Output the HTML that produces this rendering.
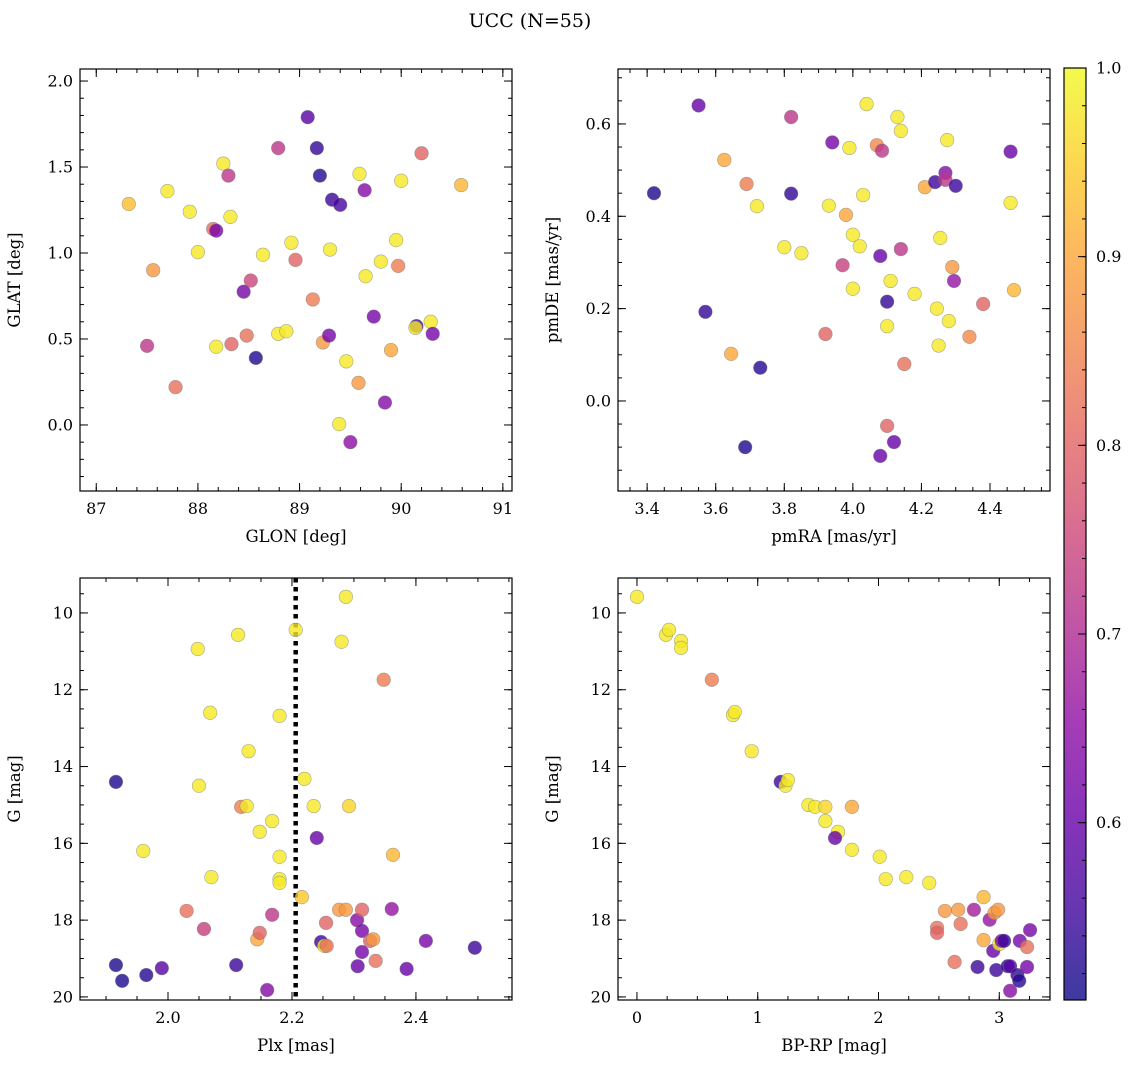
<!DOCTYPE html>
<html><head><meta charset="utf-8">
<style>
body{margin:0;background:#fff;}
svg{display:block;font-family:"DejaVu Serif","Liberation Serif",serif;}
</style></head>
<body>
<svg id="fig" width="1136" height="1068" viewBox="0 0 1136 1068" xmlns="http://www.w3.org/2000/svg">
<text x="530" y="27" text-anchor="middle" font-size="19">UCC (N=55)</text>
<defs>
<linearGradient id="cbgrad" x1="0" y1="1" x2="0" y2="0"></linearGradient>
</defs>
</svg>
<script>
// ---- data (per panel) ----
const tlGlon=[87.32,87.56,87.50,87.78,87.70,87.92,88.00,88.25,88.30,88.32,88.15,88.18,88.18,88.33,88.48,88.52,88.45,88.57,88.64,88.79,88.79,88.87,88.92,88.96,89.08,89.17,89.20,89.13,89.23,89.30,89.29,89.32,89.40,89.59,89.64,89.65,89.46,89.39,89.50,89.58,89.73,89.80,89.84,89.90,89.95,89.97,90.00,90.20,90.15,90.14,90.29,90.31,90.59];
const tlGlat=[1.285,0.90,0.46,0.22,1.36,1.24,1.005,1.52,1.45,1.21,1.14,1.13,0.455,0.47,0.52,0.84,0.775,0.39,0.99,1.61,0.53,0.545,1.06,0.96,1.79,1.61,1.45,0.73,0.48,1.02,0.52,1.31,1.28,1.46,1.365,0.865,0.37,0.005,-0.10,0.245,0.63,0.95,0.13,0.435,1.075,0.925,1.42,1.58,0.575,0.565,0.60,0.53,1.395];
const tlProb=[0.93,0.88,0.72,0.82,0.98,0.98,0.98,0.98,0.72,0.98,0.82,0.62,0.98,0.80,0.82,0.75,0.62,0.52,0.98,0.72,0.98,0.98,0.98,0.80,0.58,0.54,0.53,0.84,0.88,0.98,0.62,0.55,0.56,0.98,0.64,0.98,0.98,0.98,0.65,0.88,0.62,0.98,0.64,0.90,0.98,0.84,0.98,0.80,0.55,0.98,0.98,0.62,0.92];

const trPmra=[3.42,3.55,3.57,3.625,3.645,3.69,3.72,3.686,3.73,3.80,3.82,3.82,3.85,3.92,3.93,3.94,3.97,3.98,3.99,4.00,4.00,4.02,4.03,4.04,4.07,4.085,4.08,4.10,4.10,4.10,4.08,4.12,4.11,4.13,4.14,4.14,4.15,4.18,4.21,4.24,4.245,4.255,4.25,4.27,4.27,4.275,4.28,4.29,4.295,4.30,4.34,4.38,4.46,4.46,4.47];
const trPmde=[0.45,0.64,0.193,0.522,0.102,0.47,0.422,-0.10,0.072,0.333,0.449,0.615,0.32,0.145,0.423,0.56,0.294,0.403,0.548,0.36,0.243,0.335,0.446,0.643,0.554,0.542,0.314,0.215,0.162,-0.054,-0.119,-0.089,0.26,0.615,0.585,0.329,0.08,0.232,0.463,0.474,0.20,0.353,0.12,0.494,0.479,0.565,0.173,0.29,0.26,0.466,0.139,0.21,0.429,0.54,0.24];
const trProb=[0.52,0.60,0.54,0.90,0.90,0.84,0.98,0.52,0.53,0.98,0.54,0.72,0.98,0.80,0.98,0.62,0.74,0.90,0.98,0.98,0.98,0.98,0.98,0.98,0.86,0.72,0.60,0.54,0.98,0.80,0.60,0.60,0.98,0.98,0.98,0.72,0.82,0.98,0.90,0.55,0.98,0.98,0.98,0.64,0.72,0.98,0.98,0.88,0.66,0.55,0.86,0.80,0.98,0.60,0.92];

const blPlx=[1.916,1.916,1.926,1.965,1.96,1.99,2.03,2.048,2.05,2.058,2.068,2.07,2.11,2.113,2.118,2.127,2.13,2.144,2.148,2.148,2.16,2.168,2.168,2.18,2.18,2.18,2.18,2.206,2.216,2.22,2.235,2.24,2.247,2.252,2.256,2.255,2.276,2.28,2.287,2.287,2.292,2.305,2.306,2.313,2.313,2.313,2.326,2.331,2.335,2.348,2.363,2.361,2.385,2.416,2.495];
const blG=[14.40,19.17,19.58,19.43,16.2,19.25,17.76,10.94,14.5,18.23,12.6,16.88,19.17,10.57,15.05,15.03,13.6,18.5,18.33,15.7,19.82,15.42,17.86,12.68,16.35,16.93,17.03,10.44,17.4,14.32,15.03,15.86,18.57,18.67,18.67,18.07,17.73,10.75,17.73,9.58,15.03,18.0,19.2,18.28,18.83,17.73,18.54,18.5,19.06,11.74,16.3,17.71,19.27,18.54,18.72];
const blProb=[0.52,0.52,0.52,0.53,0.98,0.58,0.82,0.98,0.98,0.74,0.98,0.98,0.55,0.98,0.84,0.98,0.98,0.90,0.80,0.98,0.64,0.98,0.72,0.98,0.98,0.98,0.98,0.98,0.94,0.98,0.98,0.60,0.55,0.98,0.82,0.80,0.88,0.98,0.88,0.98,0.96,0.64,0.60,0.62,0.62,0.80,0.80,0.88,0.82,0.84,0.92,0.66,0.60,0.62,0.55];
const plxCut=[2.206];

const brBprp=[0,0.24,0.265,0.365,0.365,0.62,0.795,0.81,0.95,1.19,1.23,1.25,1.42,1.475,1.56,1.78,1.56,1.665,1.64,1.78,2.01,2.06,2.23,2.42,2.485,2.485,2.55,2.66,2.68,2.63,2.79,2.82,2.87,2.87,2.92,2.96,2.99,2.95,2.975,3.0,3.02,3.04,3.07,3.09,3.09,3.15,3.165,3.17,3.23,3.23,3.255];
const brG=[9.58,10.57,10.44,10.73,10.91,11.74,12.66,12.58,13.6,14.4,14.5,14.35,15.0,15.05,15.05,15.05,15.42,15.7,15.86,16.17,16.35,16.93,16.88,17.03,18.2,18.33,17.76,17.73,18.1,19.09,17.73,19.22,18.52,17.4,17.99,17.81,17.73,18.8,19.3,18.62,18.54,18.54,19.2,19.2,19.84,19.43,19.58,18.54,18.7,19.22,18.26];
const brProb=[0.98,0.98,0.98,0.98,0.98,0.84,0.98,0.98,0.98,0.55,0.98,0.98,0.98,0.98,0.96,0.90,0.98,0.98,0.60,0.98,0.98,0.98,0.98,0.98,0.82,0.80,0.88,0.88,0.82,0.82,0.68,0.55,0.90,0.92,0.66,0.88,0.88,0.60,0.55,0.98,0.62,0.55,0.53,0.58,0.64,0.54,0.53,0.62,0.82,0.62,0.62];

const cbTicks=[0.6,0.7,0.8,0.9,1.0];
const vmin=0.506, vmax=1.0;

// ---- helpers ----
const NS='http://www.w3.org/2000/svg';
const svg=document.getElementById('fig');
function mk(tag,attrs,parent){const e=document.createElementNS(NS,tag);for(const k in attrs)e.setAttribute(k,attrs[k]);(parent||svg).appendChild(e);return e;}
const stops=['#0d0887','#41049d','#6a00a8','#8f0da4','#b12a90','#cc4778','#e16462','#f2844b','#fca636','#fcce25','#f0f921'];
function hex(h){return [parseInt(h.slice(1,3),16),parseInt(h.slice(3,5),16),parseInt(h.slice(5,7),16)];}
function plasma(t){t=Math.max(0,Math.min(1,t));const f=t*10,i=Math.min(9,Math.floor(f)),u=f-i;const a=hex(stops[i]),b=hex(stops[i+1]);
return 'rgb('+a.map((v,k)=>Math.round(v+(b[k]-v)*u)).join(',')+')';}
function col(p){return plasma((p-vmin)/(vmax-vmin));}

function fmt(v,d){return v.toFixed(d);}

function panel(o){
  const g=mk('g',{});
  
  
  const X=v=>o.x0+(v-o.xmin)/(o.xmax-o.xmin)*(o.x1-o.x0);
  const Y=o.invert?(v=>o.y0+(v-o.ymin)/(o.ymax-o.ymin)*(o.y1-o.y0)):(v=>o.y1-(v-o.ymin)/(o.ymax-o.ymin)*(o.y1-o.y0));
  const tg=mk('g',{stroke:'#000','stroke-width':1},g);
  
  
  for(let v=Math.ceil(o.xmin/o.xminor-1e-9)*o.xminor;v<=o.xmax+1e-9;v+=o.xminor){const px=X(v);
    mk('line',{x1:px,x2:px,y1:o.y1,y2:o.y1-4},tg);mk('line',{x1:px,x2:px,y1:o.y0,y2:o.y0+4},tg);}
  for(let v=Math.ceil(o.ymin/o.yminor-1e-9)*o.yminor;v<=o.ymax+1e-9;v+=o.yminor){const py=Y(v);
    mk('line',{x1:o.x0,x2:o.x0+4,y1:py,y2:py},tg);mk('line',{x1:o.x1,x2:o.x1-4,y1:py,y2:py},tg);}
  o.xticks.forEach(v=>{const px=X(v);
    mk('line',{x1:px,x2:px,y1:o.y1,y2:o.y1-8},tg);mk('line',{x1:px,x2:px,y1:o.y0,y2:o.y0+8},tg);
    const t=mk('text',{x:px,y:o.y1+23,'text-anchor':'middle','font-size':16},g);t.textContent=fmt(v,o.xd);
    });
  o.yticks.forEach(v=>{const py=Y(v);
    mk('line',{x1:o.x0,x2:o.x0+8,y1:py,y2:py},tg);mk('line',{x1:o.x1,x2:o.x1-8,y1:py,y2:py},tg);
    const t=mk('text',{x:o.x0-7,y:py+5.5,'text-anchor':'end','font-size':16},g);t.textContent=fmt(v,o.yd);
    });
  if(o.vline){o.vline.forEach(v=>{const l=mk('line',{x1:X(v),x2:X(v),y1:o.y0,y2:o.y1,stroke:'#000','stroke-width':4.5,'stroke-dasharray':'4.5 4.5'},g);
    });}
  const pg=mk('g',{},g);
  
  
  o.xs.forEach((v,i)=>{const c=mk('circle',{cx:X(v),cy:Y(o.ys[i]),r:6.8,fill:col(o.ps[i]),'fill-opacity':0.8,stroke:'#777','stroke-opacity':0.6,'stroke-width':0.6},pg);
    
    });
  const fr=mk('rect',{x:o.x0,y:o.y0,width:o.x1-o.x0,height:o.y1-o.y0,fill:'none',stroke:'#000','stroke-width':1.2},g);
  
  const xl=mk('text',{x:(o.x0+o.x1)/2,y:o.y1+51,'text-anchor':'middle','font-size':16.5},g);xl.textContent=o.xlabel;
  
  const yx=o.x0-60,yy=(o.y0+o.y1)/2;
  const yl=mk('text',{x:yx,y:yy,'text-anchor':'middle','font-size':16.5,transform:'rotate(-90 '+yx+' '+yy+')'},g);yl.textContent=o.ylabel;
  
}

panel({name:'glon-glat-panel',x0:80,x1:512,y0:69,y1:491,xmin:86.84,xmax:91.09,ymin:-0.384,ymax:2.07,
  xticks:[87,88,89,90,91],xd:0,xminor:0.2,yticks:[0,0.5,1,1.5,2],yd:1,yminor:0.1,
  xs:tlGlon,ys:tlGlat,ps:tlProb,xlabel:'GLON [deg]',ylabel:'GLAT [deg]'});
panel({name:'pm-panel',x0:618,x1:1050,y0:69,y1:491,xmin:3.315,xmax:4.575,ymin:-0.195,ymax:0.719,
  xticks:[3.4,3.6,3.8,4.0,4.2,4.4],xd:1,xminor:0.05,yticks:[0,0.2,0.4,0.6],yd:1,yminor:0.05,
  xs:trPmra,ys:trPmde,ps:trProb,xlabel:'pmRA [mas/yr]',ylabel:'pmDE [mas/yr]'});
panel({name:'plx-g-panel',x0:80,x1:512,y0:578,y1:1000,xmin:1.858,xmax:2.555,ymin:9.09,ymax:20.08,invert:true,
  xticks:[2.0,2.2,2.4],xd:1,xminor:0.05,yticks:[10,12,14,16,18,20],yd:0,yminor:0.5,
  xs:blPlx,ys:blG,ps:blProb,vline:plxCut,xlabel:'Plx [mas]',ylabel:'G [mag]'});
panel({name:'cmd-panel',x0:618,x1:1050,y0:578,y1:1000,xmin:-0.157,xmax:3.42,ymin:9.09,ymax:20.08,invert:true,
  xticks:[0,1,2,3],xd:0,xminor:0.25,yticks:[10,12,14,16,18,20],yd:0,yminor:0.5,
  xs:brBprp,ys:brG,ps:brProb,xlabel:'BP-RP [mag]',ylabel:'G [mag]'});

const grad=document.getElementById('cbgrad');
for(let i=0;i<=20;i++){mk('stop',{offset:(i/20),'stop-color':plasma(i/20),'stop-opacity':0.8},grad);}
const cb=mk('g',{});


const cx0=1064,cx1=1086,cy0=68,cy1=1000;
mk('rect',{x:cx0,y:cy0,width:cx1-cx0,height:cy1-cy0,fill:'url(#cbgrad)',stroke:'#000','stroke-width':1.2},cb);
const CY=v=>cy1-(v-vmin)/(vmax-vmin)*(cy1-cy0);
for(let v=0.52;v<=1.0001;v+=0.02){mk('line',{x1:cx1,x2:cx1-4,y1:CY(v),y2:CY(v),stroke:'#000','stroke-width':1},cb);}
cbTicks.forEach(v=>{mk('line',{x1:cx1,x2:cx1-8,y1:CY(v),y2:CY(v),stroke:'#000','stroke-width':1},cb);
  const t=mk('text',{x:cx1+10,y:CY(v)+5.5,'font-size':16},cb);t.textContent=v.toFixed(1);
  });
</script>
</body></html>
